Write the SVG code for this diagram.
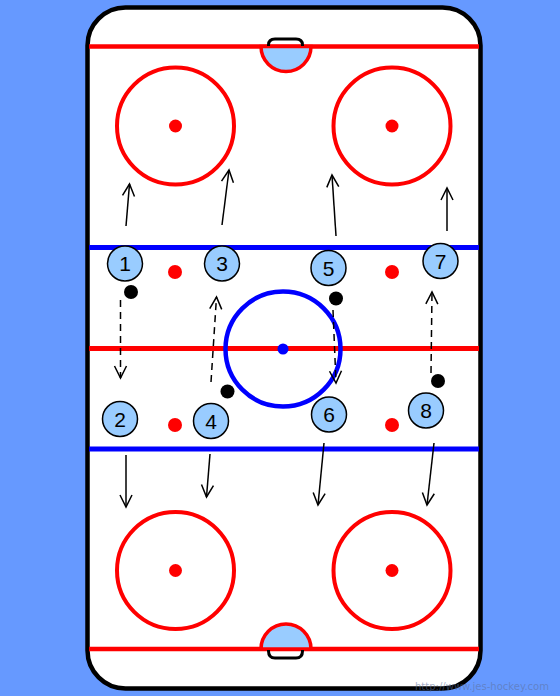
<svg xmlns="http://www.w3.org/2000/svg" width="560" height="696" viewBox="0 0 560 696">
<defs>
<marker id="ah" markerUnits="userSpaceOnUse" markerWidth="20" markerHeight="20" viewBox="-12 -10 14 20" refX="0" refY="0" orient="auto">
<path d="M-12,-6 L0,0 L-12,6" fill="none" stroke="#000" stroke-width="1.5"/>
</marker>
</defs>
<style>
.red{stroke:#ff0000;fill:none}
.blue{stroke:#0000ff;fill:none}
.pl circle{fill:#99ccff;stroke:#000;stroke-width:1.5}
.pl text{font-family:"Liberation Sans",Arial,sans-serif;font-size:21px;fill:#000;text-anchor:middle}
.puck{fill:#000}
.arr{stroke:#000;stroke-width:1.5;fill:none;marker-end:url(#ah)}
.dash{stroke-dasharray:7,5}
</style>
<rect width="560" height="696" fill="#6699ff"/>
<g id="rink">
<rect x="87.5" y="7.5" width="393" height="681" rx="38" ry="38" fill="#fff" stroke="#000" stroke-width="4.5"/>
<line x1="89" y1="46.5" x2="479" y2="46.5" class="red" stroke-width="4.5"/>
<line x1="89" y1="649" x2="479" y2="649" class="red" stroke-width="4.5"/>
<line x1="89" y1="247.5" x2="479" y2="247.5" class="blue" stroke-width="5"/>
<line x1="89" y1="449" x2="479" y2="449" class="blue" stroke-width="5"/>
<line x1="89" y1="348.5" x2="479" y2="348.5" class="red" stroke-width="5"/>
<circle cx="283" cy="349" r="57.5" class="blue" stroke-width="4.5"/>
<circle cx="283" cy="349" r="5.5" fill="#0000ff"/>
<circle cx="175.5" cy="126" r="58.5" class="red" stroke-width="4"/>
<circle cx="392" cy="126" r="58.5" class="red" stroke-width="4"/>
<circle cx="175.5" cy="570.5" r="58.5" class="red" stroke-width="4"/>
<circle cx="392" cy="570.5" r="58.5" class="red" stroke-width="4"/>
<g fill="#ff0000">
<circle cx="175.5" cy="126" r="6.5"/>
<circle cx="392" cy="126" r="6.5"/>
<circle cx="175.5" cy="570.5" r="6.5"/>
<circle cx="392" cy="570.5" r="6.5"/>
<circle cx="175" cy="272" r="7"/>
<circle cx="392" cy="272" r="7"/>
<circle cx="175" cy="425" r="7"/>
<circle cx="392" cy="425" r="7"/>
</g>
<path d="M261,46.5 A25,25 0 0 0 311,46.5 Z" fill="#99ccff" stroke="#ff0000" stroke-width="3.5"/>
<path d="M268.5,46 V45 Q268.5,39 275,39 H296 Q302.5,39 302.5,45 V46" fill="none" stroke="#000" stroke-width="3"/>
<path d="M261,649 A25,25 0 0 1 311,649 Z" fill="#99ccff" stroke="#ff0000" stroke-width="3.5"/>
<path d="M268.5,650 V651 Q268.5,658 275,658 H296 Q302.5,658 302.5,651 V650" fill="none" stroke="#000" stroke-width="3"/>
</g>
<g id="connectors">
<line class="arr" x1="126" y1="226" x2="129.5" y2="184"/>
<line class="arr" x1="222" y1="225" x2="229" y2="170"/>
<line class="arr" x1="336" y1="236" x2="332" y2="175"/>
<line class="arr" x1="447" y1="231" x2="447" y2="188"/>
<line class="arr" x1="126" y1="455" x2="126" y2="507"/>
<line class="arr" x1="210" y1="454" x2="206.5" y2="497"/>
<line class="arr" x1="324" y1="443" x2="318" y2="505"/>
<line class="arr" x1="434" y1="443" x2="427" y2="505"/>
<line class="arr dash" x1="120.5" y1="300" x2="120.5" y2="378"/>
<line class="arr dash" x1="211" y1="382" x2="216.5" y2="297"/>
<line class="arr dash" x1="333" y1="310" x2="336" y2="383"/>
<line class="arr dash" x1="431" y1="373" x2="432" y2="292"/>
</g>
<g id="pucks">
<circle class="puck" cx="131" cy="292" r="7"/>
<circle class="puck" cx="227.5" cy="391.5" r="7"/>
<circle class="puck" cx="336" cy="298.5" r="7"/>
<circle class="puck" cx="438" cy="381" r="7"/>
</g>
<g id="p1" class="pl"><circle cx="125" cy="263.5" r="17.5"/><text x="125" y="271">1</text></g>
<g id="p3" class="pl"><circle cx="222" cy="263.5" r="17.5"/><text x="222" y="271">3</text></g>
<g id="p5" class="pl"><circle cx="328.5" cy="268" r="17.5"/><text x="328.5" y="275.5">5</text></g>
<g id="p7" class="pl"><circle cx="440.5" cy="261" r="17.5"/><text x="440.5" y="268.5">7</text></g>
<g id="p2" class="pl"><circle cx="120" cy="419" r="17.5"/><text x="120" y="426.5">2</text></g>
<g id="p4" class="pl"><circle cx="211" cy="421" r="17.5"/><text x="211" y="428.5">4</text></g>
<g id="p6" class="pl"><circle cx="329" cy="414.5" r="17.5"/><text x="329" y="422">6</text></g>
<g id="p8" class="pl"><circle cx="426" cy="410.5" r="17.5"/><text x="426" y="418">8</text></g>
<text x="415" y="690" font-family="'DejaVu Sans',Verdana,sans-serif" font-size="10.5" fill="#5c6f99" fill-opacity="0.55" textLength="134" lengthAdjust="spacingAndGlyphs">http://www.jes-hockey.com</text>
</svg>
